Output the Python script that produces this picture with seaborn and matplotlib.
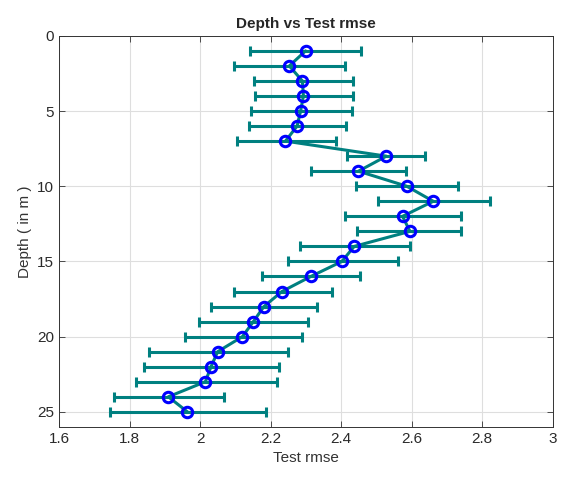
import numpy as np
import pandas as pd
import matplotlib
matplotlib.use("Agg")
import matplotlib.pyplot as plt
import seaborn as sns

# values
depth = list(range(1, 26))
rmse_mean = [2.299, 2.253, 2.290, 2.293, 2.285, 2.275, 2.242, 2.528, 2.449, 2.586,
             2.661, 2.574, 2.595, 2.437, 2.402, 2.314, 2.232, 2.181, 2.151, 2.120,
             2.050, 2.031, 2.015, 1.910, 1.964]
rmse_low = [2.142, 2.096, 2.153, 2.155, 2.144, 2.139, 2.106, 2.417, 2.315, 2.443,
            2.504, 2.410, 2.446, 2.282, 2.248, 2.175, 2.095, 2.032, 1.996, 1.957,
            1.856, 1.840, 1.819, 1.757, 1.745]
rmse_high = [2.455, 2.412, 2.433, 2.433, 2.430, 2.413, 2.384, 2.639, 2.584, 2.730,
             2.822, 2.741, 2.741, 2.594, 2.561, 2.454, 2.373, 2.331, 2.305, 2.289,
             2.249, 2.225, 2.217, 2.069, 2.187]

df = pd.DataFrame({"depth": depth, "rmse": rmse_mean, "low": rmse_low, "high": rmse_high})

sns.set_theme(style="whitegrid")
plt.rcParams["font.family"] = ["Liberation Sans", "DejaVu Sans"]

teal = "#008080"

fig, ax = plt.subplots(figsize=(5.67, 4.78), dpi=100)
fig.subplots_adjust(left=0.104, right=0.975, top=0.925, bottom=0.107)

xerr = np.vstack([df["rmse"] - df["low"], df["high"] - df["rmse"]])
ax.errorbar(df["rmse"], df["depth"], xerr=xerr, fmt="none", ecolor=teal,
            elinewidth=2.2, capsize=3.5, capthick=2.2, zorder=2)
sns.lineplot(data=df, x="rmse", y="depth", sort=False, color=teal, linewidth=2.2,
             marker="o", markersize=7.5, markerfacecolor="none", markeredgecolor="#0000ff",
             markeredgewidth=2.2, ax=ax, zorder=3)

ax.set_xlim(1.6, 3.0)
ax.set_ylim(26, 0)
ax.set_xticks([1.6, 1.8, 2.0, 2.2, 2.4, 2.6, 2.8, 3.0])
ax.set_xticklabels(["1.6", "1.8", "2", "2.2", "2.4", "2.6", "2.8", "3"])
ax.set_yticks([0, 5, 10, 15, 20, 25])
ax.set_xlabel("Test rmse", fontsize=11, color="#333333")
ax.set_ylabel("Depth ( in m )", fontsize=11, color="#333333")
ax.set_title("Depth vs Test rmse", fontsize=11, fontweight="bold")

ax.tick_params(axis="both", which="both", direction="in", length=4, width=0.6,
               colors="#333333", labelsize=11, top=True, right=True, bottom=True, left=True,
               labeltop=False, labelright=False)
ax.tick_params(axis="both", labelcolor="#2a2a2a")
ax.grid(True, color="#dedede", linewidth=0.8)
for s in ax.spines.values():
    s.set_visible(True)
    s.set_color("#333333")
    s.set_linewidth(0.7)
if ax.get_legend() is not None:
    ax.get_legend().remove()

plt.savefig("out.png", dpi=100)
plt.close()
